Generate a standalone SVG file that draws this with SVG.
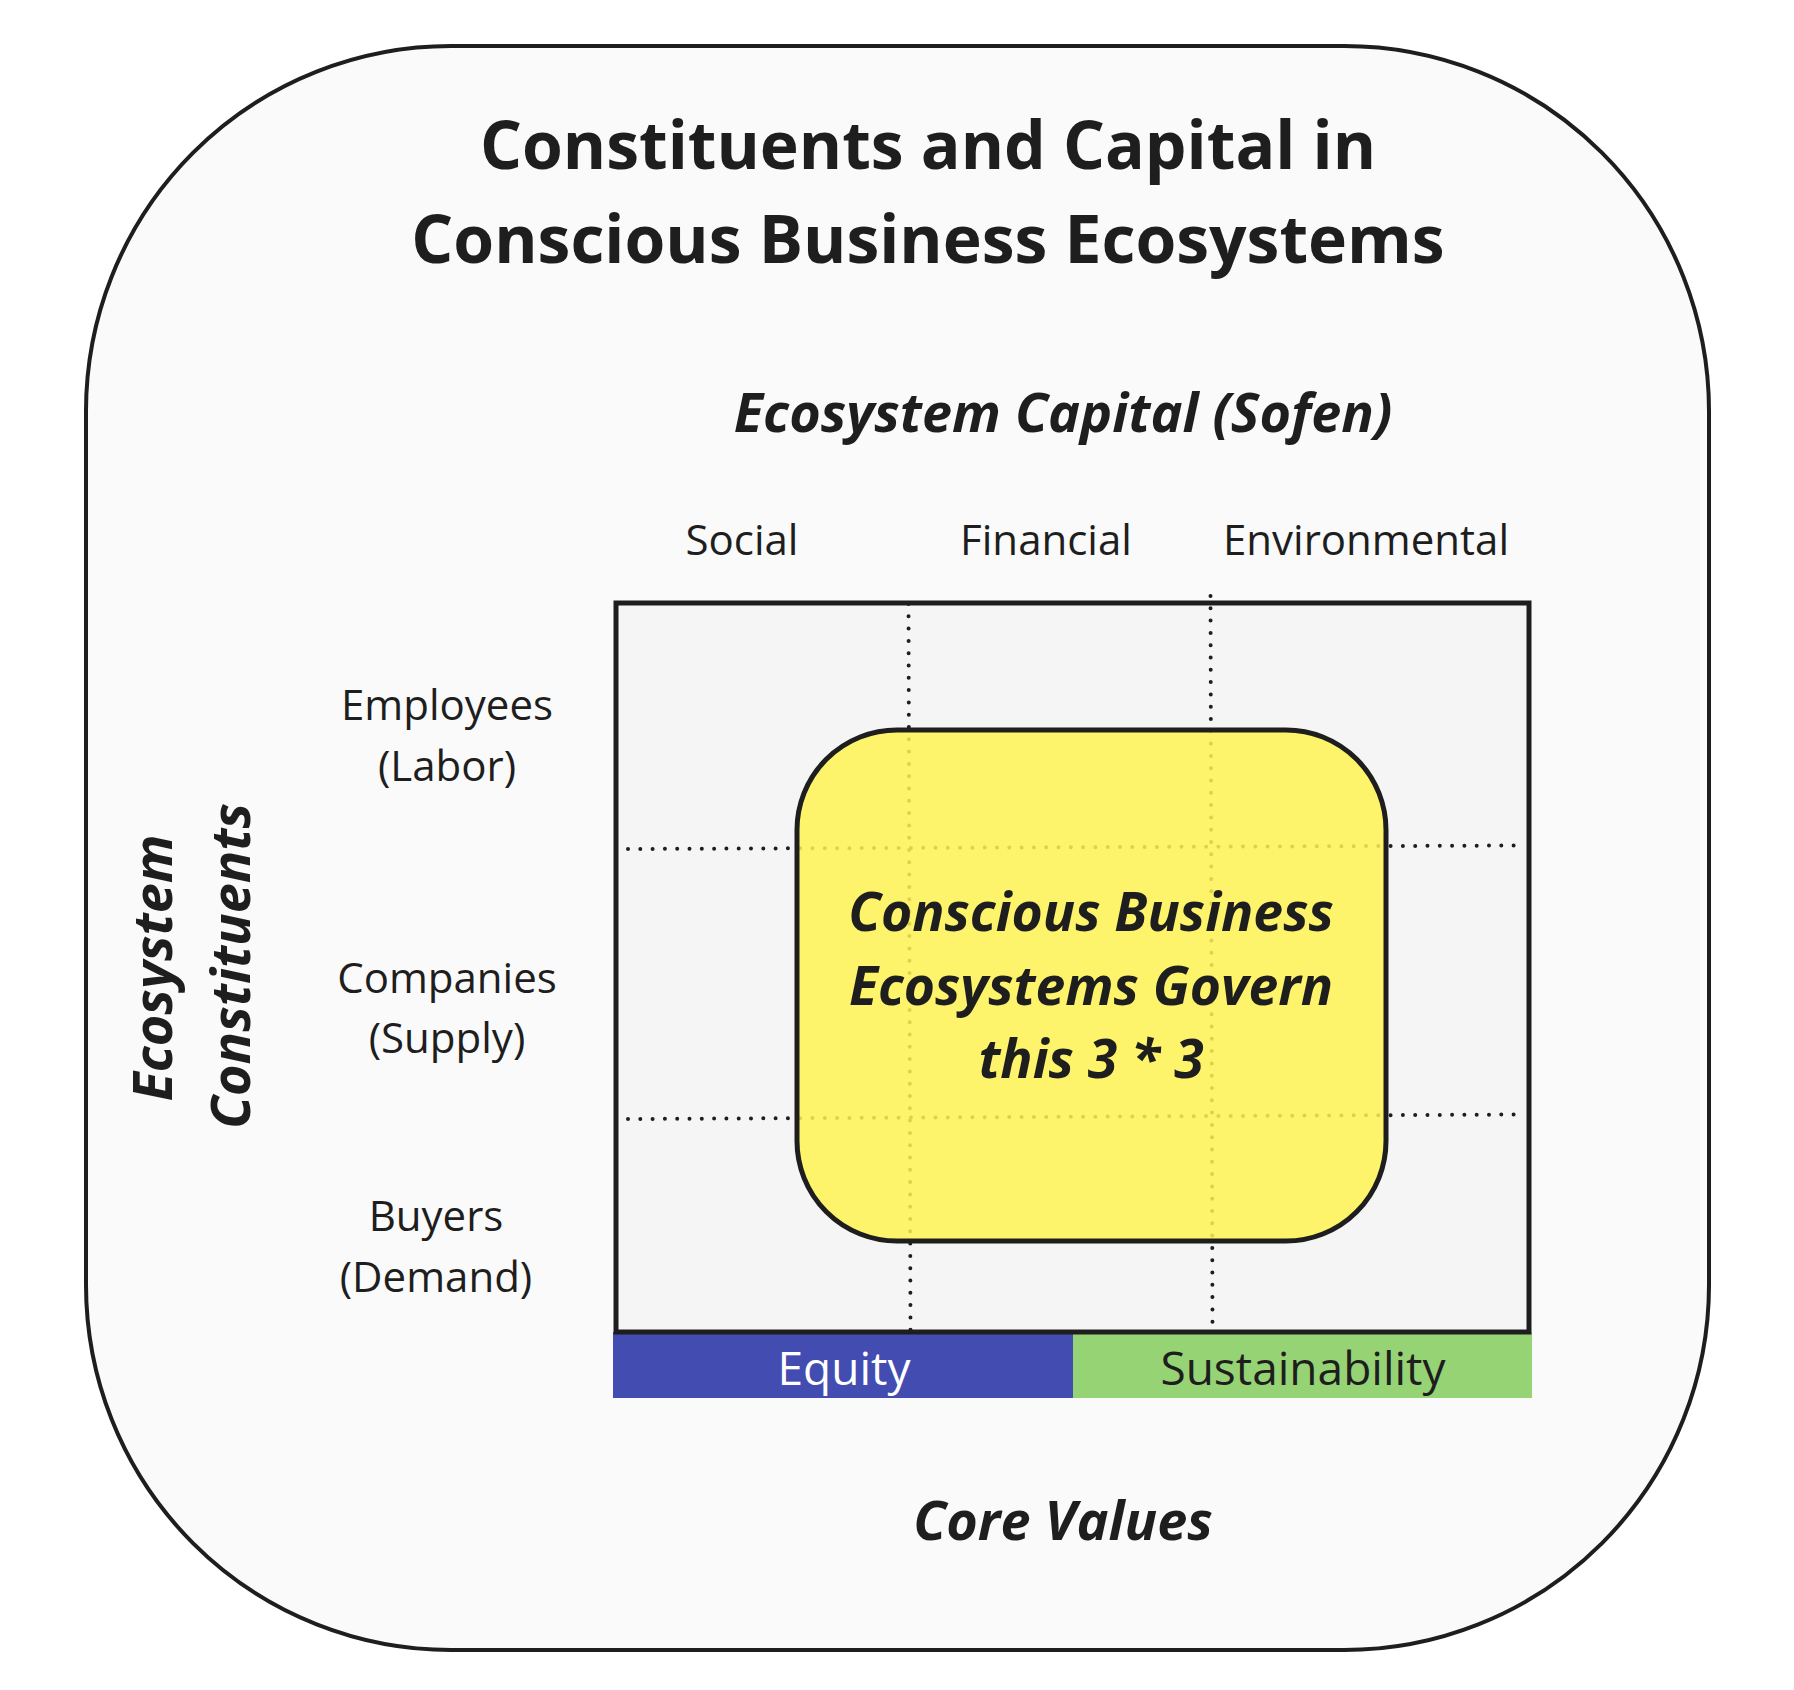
<svg xmlns="http://www.w3.org/2000/svg" width="1794" height="1690" viewBox="0 0 1794 1690">
  <style>
    text { font-family: "Open Sans", "Noto Sans", "Liberation Sans", sans-serif; fill: #1e1e1e; }
    .title { font-size: 66px; font-weight: 700; text-anchor: middle; }
    .axis { font-size: 54px; font-weight: 700; font-style: italic; text-anchor: middle; }
    .inner { font-size: 53.5px; font-weight: 700; font-style: italic; text-anchor: middle; }
    .lbl { font-size: 42px; font-weight: 400; text-anchor: middle; }
    .val { font-size: 46px; font-weight: 400; text-anchor: middle; }
    .dot { fill: none; stroke: #1e1e1e; stroke-width: 4; stroke-dasharray: 0 12.3; stroke-linecap: round; }
  </style>
  <rect width="1794" height="1690" fill="#ffffff"/>
  <g id="frame">
    <rect x="86" y="46" width="1623" height="1604" rx="365" ry="365" fill="#fafafa" stroke="#1e1e1e" stroke-width="4"/>
  </g>
  <g id="title">
    <text class="title" x="928" y="169">Constituents and Capital in</text>
    <text class="title" x="928" y="263">Conscious Business Ecosystems</text>
  </g>
  <g id="capital-axis">
    <text class="axis" x="1063" y="432">Ecosystem Capital (Sofen)</text>
    <text class="lbl" x="742" y="555">Social</text>
    <text class="lbl" x="1046" y="555">Financial</text>
    <text class="lbl" x="1366" y="555">Environmental</text>
  </g>
  <g id="constituents-axis">
    <text class="axis" transform="translate(172,968) rotate(-90)" x="0" y="0">Ecosystem</text>
    <text class="axis" transform="translate(250,966) rotate(-90)" x="0" y="0">Constituents</text>
    <text class="lbl" x="447" y="720">Employees</text>
    <text class="lbl" x="447" y="781">(Labor)</text>
    <text class="lbl" x="447" y="993">Companies</text>
    <text class="lbl" x="447" y="1053">(Supply)</text>
    <text class="lbl" x="436" y="1231">Buyers</text>
    <text class="lbl" x="436" y="1292">(Demand)</text>
  </g>
  <g id="core-values">
    <rect id="equity" x="613" y="1332" width="460" height="66" fill="#434cb0"/>
    <rect id="sustainability" x="1073" y="1332" width="459" height="66" fill="#96d375"/>
    <text class="val" x="844" y="1385" style="fill:#ffffff">Equity</text>
    <text class="val" x="1303" y="1385">Sustainability</text>
    <text class="axis" x="1063" y="1540">Core Values</text>
  </g>
  <g id="grid">
    <rect x="616" y="603" width="913" height="729" fill="#f5f5f5" stroke="#1e1e1e" stroke-width="5"/>
  </g>
  <g id="connectors">
    <line class="dot" x1="908.5" y1="604" x2="910.5" y2="1330"/>
    <line class="dot" x1="1210.5" y1="596" x2="1212.5" y2="1328"/>
    <line class="dot" x1="628" y1="849" x2="1514" y2="845.5"/>
    <line class="dot" x1="628" y1="1119" x2="1514" y2="1114.5"/>
  </g>
  <g id="governance">
    <rect x="797" y="730" width="589" height="511" rx="100" ry="100" fill="#fff352" fill-opacity="0.85" stroke="#1e1e1e" stroke-width="5"/>
    <text class="inner" x="1091" y="931">Conscious Business</text>
    <text class="inner" x="1091" y="1005">Ecosystems Govern</text>
    <text class="inner" x="1091" y="1078">this 3 * 3</text>
  </g>
</svg>
